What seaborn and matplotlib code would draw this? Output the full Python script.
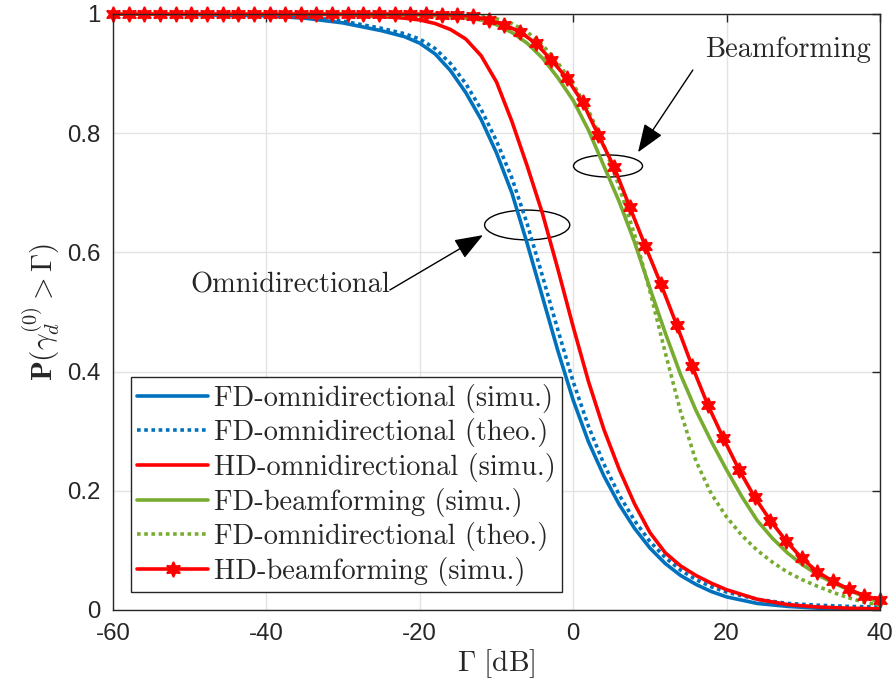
import numpy as np
import pandas as pd
import matplotlib
matplotlib.use("Agg")
import matplotlib.pyplot as plt
import seaborn as sns
from matplotlib.patches import Ellipse

sns.set_style("white")
plt.rcParams['mathtext.fontset'] = 'cm'
plt.rcParams['font.family'] = ['Liberation Sans', 'DejaVu Sans']

# ---------------- data ----------------
x_fd_omni = [-60, -50, -40, -35, -30, -25, -22, -20, -18, -16, -14, -12, -10, -8, -6, -4, -2,
             0, 2, 4, 6, 8, 10, 12, 14, 16, 18, 20, 24, 28, 32, 36, 40]
fd_omni_simu = [1.0, 0.999, 0.997, 0.993, 0.985, 0.972, 0.962, 0.951, 0.933, 0.905, 0.868, 0.823,
                0.767, 0.70, 0.615, 0.525, 0.435, 0.352, 0.282, 0.225, 0.177, 0.137, 0.104, 0.078,
                0.058, 0.043, 0.031, 0.022, 0.011, 0.006, 0.003, 0.002, 0.001]
fd_omni_theo = [1.0, 0.9995, 0.998, 0.995, 0.988, 0.976, 0.967, 0.958, 0.942, 0.917, 0.883, 0.84,
                0.787, 0.725, 0.648, 0.56, 0.47, 0.383, 0.308, 0.245, 0.193, 0.15, 0.115, 0.088,
                0.067, 0.051, 0.039, 0.030, 0.018, 0.011, 0.008, 0.006, 0.005]
hd_omni_simu = [1.0, 1.0, 1.0, 0.9995, 0.999, 0.996, 0.993, 0.99, 0.984, 0.974, 0.958, 0.93,
                0.886, 0.82, 0.745, 0.665, 0.572, 0.475, 0.383, 0.303, 0.236, 0.178, 0.13, 0.096,
                0.074, 0.058, 0.045, 0.034, 0.018, 0.009, 0.005, 0.003, 0.002]

x_fd_beam = [-60, -40, -30, -20, -15, -12, -10, -8, -6, -4, -2, 0, 2, 4, 6, 8, 10, 12, 14, 16,
             18, 20, 22, 24, 26, 28, 30, 32, 34, 36, 38, 40]
fd_beam_simu = [1.0, 1.0, 0.9995, 0.998, 0.995, 0.99, 0.982, 0.969, 0.951, 0.926, 0.893, 0.855,
                0.805, 0.745, 0.685, 0.617, 0.54, 0.465, 0.395, 0.335, 0.283, 0.235, 0.19, 0.15,
                0.12, 0.095, 0.075, 0.058, 0.045, 0.033, 0.022, 0.013]
fd_beam_theo = [1.0, 1.0, 1.0, 0.999, 0.998, 0.996, 0.992, 0.984, 0.97, 0.948, 0.918, 0.882,
                0.838, 0.78, 0.71, 0.63, 0.535, 0.432, 0.333, 0.25, 0.195, 0.156, 0.125, 0.10,
                0.08, 0.063, 0.05, 0.039, 0.029, 0.02, 0.013, 0.008]

x_hd_beam = np.linspace(-60, 40, 50)
hd_beam_simu = [1.0] * 20 + [0.9995, 0.999, 0.998, 0.996, 0.990, 0.982, 0.970, 0.951, 0.923,
                             0.892, 0.852, 0.797, 0.744, 0.677, 0.611, 0.547, 0.479, 0.409,
                             0.344, 0.288, 0.235, 0.189, 0.150, 0.116, 0.087, 0.064, 0.048,
                             0.035, 0.024, 0.017]

x_ticks = [-60, -40, -20, 0, 20, 40]
x_tick_labels = ['-60', '-40', '-20', '0', '20', '40']
y_ticks = [0, 0.2, 0.4, 0.6, 0.8, 1.0]
y_tick_labels = ['0', '0.2', '0.4', '0.6', '0.8', '1']

labels = ['FD-omnidirectional (simu.)', 'FD-omnidirectional (theo.)',
          'HD-omnidirectional (simu.)', 'FD-beamforming (simu.)',
          'FD-omnidirectional (theo.)', 'HD-beamforming (simu.)']

BLUE = '#0072BD'
RED = '#FF0000'
GREEN = '#77AC30'

# ---------------- figure ----------------
fig = plt.figure(figsize=(8.95, 6.99), dpi=100)
ax = fig.add_axes([113 / 895, 1 - 610 / 699, 767 / 895, 596 / 699])

lw = 2.6
dot = (0, (1.0, 1.0))
series = [
    (x_fd_omni, fd_omni_simu, labels[0], BLUE, '-', None),
    (x_fd_omni, fd_omni_theo, labels[1], BLUE, dot, None),
    (x_fd_omni, hd_omni_simu, labels[2], RED, '-', None),
    (x_fd_beam, fd_beam_simu, labels[3], GREEN, '-', None),
    (x_fd_beam, fd_beam_theo, labels[4], GREEN, dot, None),
    (x_hd_beam, hd_beam_simu, labels[5], RED, '-', (6, 1, 0)),
]
for xs, ys, lab, col, ls, mk in series:
    df = pd.DataFrame({'x': xs, 'y': ys})
    sns.lineplot(data=df, x='x', y='y', ax=ax, color=col, linewidth=lw, label=lab,
                 marker=mk, markersize=11, markeredgecolor=col, markerfacecolor=col,
                 markeredgewidth=1.2, estimator=None, sort=False)
ax.lines[-1].set_clip_on(False)
for ln, (_, _, _, _, ls, _) in zip(ax.lines, series):
    ln.set_linestyle(ls)
    ln.set_dash_capstyle('butt')

ax.set_xlim(-60, 40)
ax.set_ylim(0, 1)
ax.set_xticks(x_ticks)
ax.set_xticklabels(x_tick_labels)
ax.set_yticks(y_ticks)
ax.set_yticklabels(y_tick_labels)
ax.tick_params(direction='in', length=6, width=1, top=True, right=True,
               labelsize=17.3, colors='#262626', pad=9)
ax.grid(True, color='#e3e3e3', linewidth=1)
ax.set_axisbelow(True)
for sp in ax.spines.values():
    sp.set_color('#262626')
    sp.set_linewidth(1)

ax.set_xlabel(r'$\Gamma\ [\mathrm{dB}]$', fontsize=21, labelpad=2)
ax.set_ylabel(r'$\mathbf{P}(\gamma_d^{(0)} > \Gamma)$', fontsize=21, labelpad=4)

leg = ax.legend(loc='lower left', bbox_to_anchor=(0.0235, 0.030), borderaxespad=0,
                fancybox=False, framealpha=1, edgecolor='#262626',
                prop={'family': 'cmr10', 'size': 20.4}, handlelength=2.5,
                handletextpad=0.22, labelspacing=0.2, borderpad=0.22)
leg.get_frame().set_linewidth(1)

# annotations
ax.add_patch(Ellipse((4.54, 0.745), 9.0, 0.037, fill=False, color='k', lw=1))
ax.add_patch(Ellipse((-6.0, 0.646), 11.1, 0.05, fill=False, color='k', lw=1))
ax.annotate('', xy=(8.45, 0.768), xytext=(15.6, 0.906),
            arrowprops=dict(arrowstyle='-|>,head_length=0.8,head_width=0.3',
                            mutation_scale=22, lw=1, color='k', shrinkA=0, shrinkB=0))
ax.annotate('', xy=(-11.76, 0.629), xytext=(-23.9, 0.537),
            arrowprops=dict(arrowstyle='-|>,head_length=0.8,head_width=0.3',
                            mutation_scale=22, lw=1, color='k', shrinkA=0, shrinkB=0))
ax.text(17.2, 0.94, 'Beamforming', family='cmr10', fontsize=20.4, va='center', ha='left')
ax.text(-23.9, 0.545, 'Omnidirectional', family='cmr10', fontsize=20.4, va='center', ha='right')

fig.savefig('out.png', dpi=100)
